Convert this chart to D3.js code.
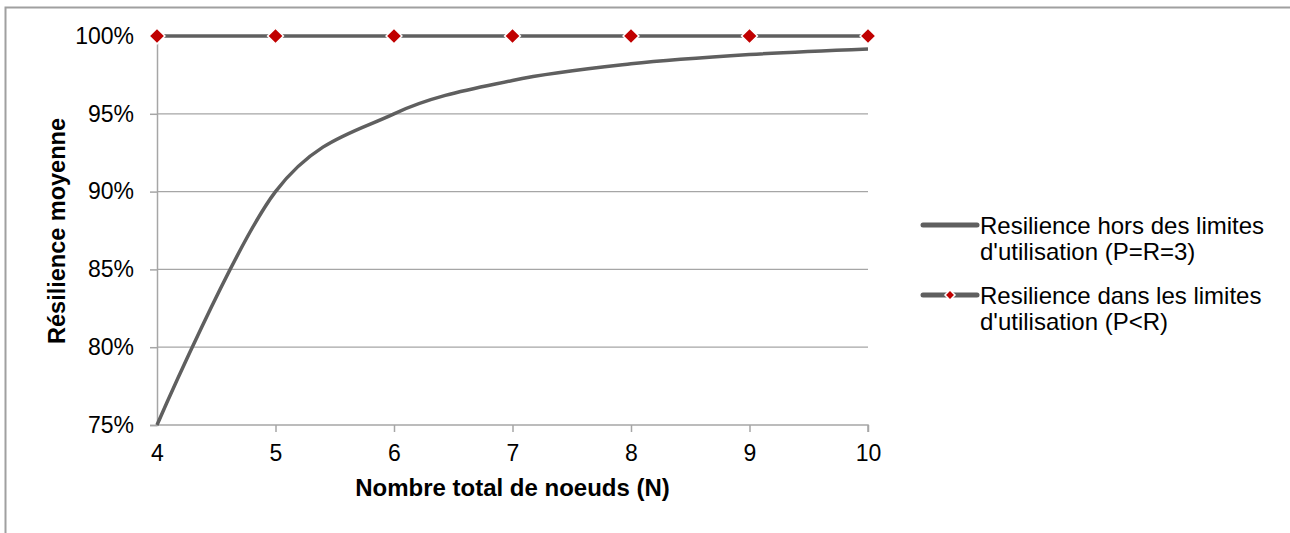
<!DOCTYPE html>
<html>
<head>
<meta charset="utf-8">
<script src="https://cdn.jsdelivr.net/npm/d3@7"></script>
<style>
  body { margin: 0; background: #fff; }
  text { font-family: "Liberation Sans", Arial, sans-serif; fill: #000; }
</style>
</head>
<body>
<script>
const nodes = [4, 5, 6, 7, 8, 9, 10];
const horsLimites = [0.75, 0.90, 0.95, 0.9714, 0.9821, 0.9881, 0.9917];
const dansLimites = [1, 1, 1, 1, 1, 1, 1];
const yTicks = [0.75, 0.80, 0.85, 0.90, 0.95, 1.00];
const legendLabels = [
  ['Resilience hors des limites', "d'utilisation (P=R=3)"],
  ['Resilience dans les limites', "d'utilisation (P<R)"]
];

const width = 1290, height = 533;
const lineColor = '#5f5f5f', gridColor = '#a6a6a6', red = '#c00000';

const svg = d3.select('body').append('svg')
  .attr('width', width)
  .attr('height', height);

// outer chart frame (top and left edges visible)
svg.append('path')
  .attr('d', 'M5.5,' + height + 'V7.5H' + width)
  .attr('fill', 'none')
  .attr('stroke', '#a0a0a0')
  .attr('stroke-width', 2);

const x = d3.scaleLinear().domain([4, 10]).range([157, 868]);
const y = d3.scaleLinear().domain([0.75, 1]).range([425, 36]);

// grid
svg.append('g')
  .selectAll('line')
  .data(yTicks.slice(1))
  .enter()
  .append('line')
  .attr('x1', x(4)).attr('x2', x(10))
  .attr('y1', d => y(d)).attr('y2', d => y(d))
  .attr('stroke', gridColor)
  .attr('stroke-width', 1.3);

// y axis
const yAxis = svg.append('g')
  .attr('transform', 'translate(' + x(4) + ',0)')
  .call(d3.axisLeft(y).tickValues(yTicks).tickFormat(d3.format('.0%')).tickSize(7).tickPadding(16));
// x axis
const xAxis = svg.append('g')
  .attr('transform', 'translate(0,' + y(0.75) + ')')
  .call(d3.axisBottom(x).tickValues(nodes).tickFormat(d3.format('d')).tickSize(7).tickPadding(13));

[yAxis, xAxis].forEach(function (a) {
  a.select('.domain').attr('stroke', gridColor).attr('stroke-width', 1.5);
  a.selectAll('.tick line').attr('stroke', gridColor).attr('stroke-width', 1.5);
  a.selectAll('.tick text').style('font-size', '23px').attr('fill', '#000');
});
xAxis.select('.domain').attr('d', 'M' + x(4) + ',0H' + x(10) + 'V7');
xAxis.selectAll('.tick').filter(d => d === 4).select('line').remove();

// axis titles
svg.append('text')
  .attr('x', x(7)).attr('y', 496)
  .attr('text-anchor', 'middle')
  .style('font-size', '24px').style('font-weight', 'bold')
  .text('Nombre total de noeuds (N)');
svg.append('text')
  .attr('transform', 'translate(65,' + 231 + ') rotate(-90)')
  .attr('text-anchor', 'middle')
  .style('font-size', '23.5px').style('font-weight', 'bold')
  .text('Résilience moyenne');

// series
const line = d3.line()
  .x((d, i) => x(nodes[i]))
  .y(d => y(d))
  .curve(d3.curveCardinal.tension(0));

svg.append('path')
  .datum(horsLimites)
  .attr('d', line)
  .attr('fill', 'none')
  .attr('stroke', lineColor)
  .attr('stroke-width', 3.5);

svg.append('path')
  .datum(dansLimites)
  .attr('d', line)
  .attr('fill', 'none')
  .attr('stroke', lineColor)
  .attr('stroke-width', 3.5);

svg.append('g')
  .selectAll('path')
  .data(dansLimites)
  .enter()
  .append('path')
  .attr('transform', (d, i) => 'translate(' + x(nodes[i]) + ',' + y(d) + ') rotate(45)')
  .attr('d', d3.symbol().type(d3.symbolSquare).size(125))
  .attr('fill', red)
  .attr('stroke', '#fff')
  .attr('stroke-width', 1.5);

// legend
const legend = svg.append('g').attr('transform', 'translate(921,0)');
const rowY = [225, 295];
legendLabels.forEach(function (lab, i) {
  legend.append('line')
    .attr('x1', 2).attr('x2', 56)
    .attr('y1', rowY[i]).attr('y2', rowY[i])
    .attr('stroke', lineColor)
    .attr('stroke-width', 5)
    .attr('stroke-linecap', 'round');
  if (i === 1) {
    legend.append('path')
      .attr('transform', 'translate(29,' + rowY[i] + ') rotate(45)')
      .attr('d', d3.symbol().type(d3.symbolSquare).size(50))
      .attr('fill', red)
      .attr('stroke', '#fff')
      .attr('stroke-width', 1.5);
  }
  lab.forEach(function (t, j) {
    legend.append('text')
      .attr('x', 59).attr('y', rowY[i] + 9 + j * 26)
      .style('font-size', '24px')
      .text(t);
  });
});
</script>
</body>
</html>
